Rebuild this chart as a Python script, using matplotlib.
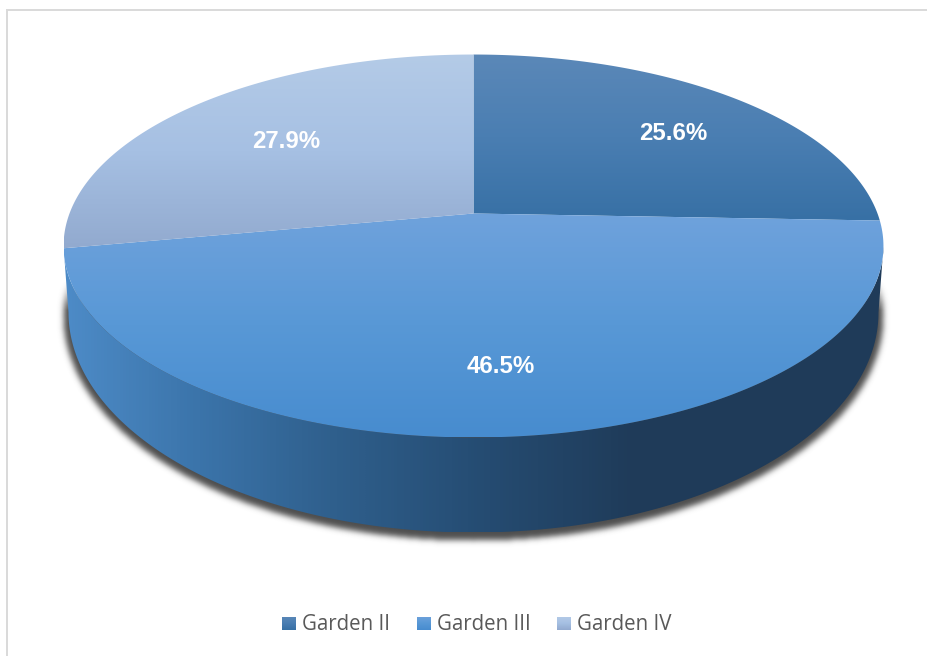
#!/usr/bin/env python3

import numpy as np
import matplotlib
matplotlib.use("Agg")
import matplotlib.pyplot as plt
from matplotlib.colors import LinearSegmentedColormap
from matplotlib.patches import Polygon

categories = ["Garden II", "Garden III", "Garden IV"]
shares = [25.6, 46.5, 27.9]
share_labels = ["25.6%", "46.5%", "27.9%"]

# top face gradients, listed top to bottom
face_colors = [
    ["#5b88b8", "#4a7eb2", "#3770a5"],
    ["#6fa2dc", "#5898d6", "#478ccf"],
    ["#b4cbe7", "#a6c0e3", "#92aacf"],
]
wall_stops = [(0.0, "#4d8bc7"), (0.16, "#3b74aa"), (0.33, "#2f5f8c"),
              (0.49, "#264e75"), (0.70, "#1f3b59"), (1.0, "#203c5a")]
label_xy = [(673, 133), (500, 366), (286, 141)]
legend_x = [282, 417, 557]

# perspective of the pie disc, everything below is in pixel units
CX, CY = 473.0, 213.0
SCALE, TILT, DEPTH = 404.0, 0.1697, -149.8
RIM_RX, RIM_CY, RIM_RY = 405.0, 312.0, 220.0


def project(x, y):
    """Unit disc coordinates to the tilted drawing plane."""
    w = 1 + TILT * y
    return CX + SCALE * x / w, (DEPTH * y + CY) / w


def slice_outline(start, stop):
    # angles run clockwise from 12 o'clock
    t = np.linspace(start, stop, 200)
    px, py = project(np.sin(t), np.cos(t))
    return np.column_stack([np.r_[CX, px], np.r_[CY, py]])


def gradient_fill(ax, outline, colors, horizontal=False, zorder=2):
    cmap = LinearSegmentedColormap.from_list("fill", colors)
    x0, x1 = outline[:, 0].min(), outline[:, 0].max()
    y0, y1 = outline[:, 1].min(), outline[:, 1].max()
    ramp = np.linspace(0, 1, 256)
    ramp = ramp[None, :] if horizontal else ramp[:, None]
    im = ax.imshow(ramp, cmap=cmap, extent=(x0, x1, y1, y0), aspect="auto",
                   interpolation="bilinear", zorder=zorder)
    im.set_clip_path(Polygon(outline, closed=True, transform=ax.transData))
    return im


def soft_shadow(ax):
    # blurred copy of the lower rim, only the part outside the wall shows
    yy, xx = np.mgrid[0:656, 0:928]
    inside = ((xx - CX) / (RIM_RX + 5)) ** 2 + ((yy - RIM_CY - 3) / (RIM_RY + 5)) ** 2 <= 1
    alpha = inside.astype(float)
    kernel = np.exp(-0.5 * (np.arange(-10, 11) / 3.0) ** 2)
    kernel /= kernel.sum()
    alpha = np.apply_along_axis(np.convolve, 0, alpha, kernel, mode="same")
    alpha = np.apply_along_axis(np.convolve, 1, alpha, kernel, mode="same")
    alpha *= np.clip((yy - 280) / 30.0, 0, 1)
    rgba = np.zeros((656, 928, 4))
    rgba[..., :3] = 0.27
    rgba[..., 3] = alpha * 0.95
    ax.imshow(rgba, extent=(-0.5, 927.5, 655.5, -0.5), aspect="auto", zorder=1)


fig = plt.figure(figsize=(9.28, 6.56), dpi=100, facecolor="white")
ax = fig.add_axes([0, 0, 1, 1])
ax.axis("off")

# chart frame, only the top and left sides are inside the canvas
ax.plot([928, 7, 7], [9.5, 9.5, 656], color="#d9d9d9", linewidth=1.4, zorder=0,
        solid_joinstyle="miter")

soft_shadow(ax)

# side wall between the front of the top rim and the lower rim
ring = np.linspace(0, 2 * np.pi, 721)
ring_x, ring_y = project(np.sin(ring), np.cos(ring))
right = np.argmax(ring_x)
left = np.argmin(ring_x)
front_x, front_y = ring_x[right:left + 1], ring_y[right:left + 1]
t = np.linspace(np.pi, 0, 300)
wall = np.column_stack([np.r_[front_x, CX + RIM_RX * np.cos(t)],
                        np.r_[front_y, RIM_CY + RIM_RY * np.sin(t)]])
wall_cmap = LinearSegmentedColormap.from_list("wall", wall_stops)
gradient_fill(ax, wall, wall_cmap(np.linspace(0, 1, 64)), horizontal=True, zorder=2)

# top face, one gradient per slice
edges = np.r_[0, np.cumsum(shares)] / np.sum(shares) * 2 * np.pi
for i in range(len(shares)):
    outline = slice_outline(edges[i], edges[i + 1])
    gradient_fill(ax, outline, face_colors[i], zorder=3)

for text, (x, y) in zip(share_labels, label_xy):
    ax.text(x, y, text, color="white", fontsize=17.3, fontweight="bold",
            family="Liberation Sans", ha="center", va="center", zorder=5)

# legend
for i, name in enumerate(categories):
    x = legend_x[i]
    swatch = np.array([[x, 616], [x + 14, 616], [x + 14, 630], [x, 630]], dtype=float)
    gradient_fill(ax, swatch, face_colors[i], zorder=3)
    ax.text(x + 20, 624.5, name, color="#595959", fontsize=14.8, family="Open Sans",
            ha="left", va="center", zorder=5)

ax.set_xlim(-0.5, 927.5)
ax.set_ylim(655.5, -0.5)

fig.savefig("out.png", dpi=100, facecolor="white")
